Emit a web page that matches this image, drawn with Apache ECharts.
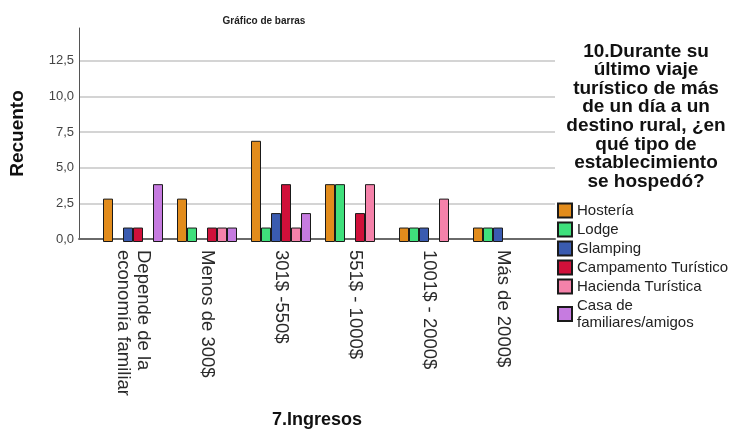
<!DOCTYPE html>
<html>
<head>
<meta charset="utf-8">
<script src="https://cdn.jsdelivr.net/npm/echarts@6/dist/echarts.min.js"></script>
<style>
  html, body { margin: 0; padding: 0; background: #ffffff; }
  #chart { width: 731px; height: 430px; }
</style>
</head>
<body>
<div id="chart"></div>
<script>
// Income brackets (x categories)
const categories = [
  'Depende de la\neconomía familiar',
  'Menos de 300$',
  '301$ -550$',
  '551$ - 1000$',
  '1001$ - 2000$',
  'Más de 2000$'
];

// Accommodation types (series) and their counts per income bracket
const seriesNames = [
  'Hostería',
  'Lodge',
  'Glamping',
  'Campamento Turístico',
  'Hacienda Turística',
  'Casa de\nfamiliares/amigos'
];
const hosteria   = [3, 3, 7, 4, 1, 1];
const lodge      = [0, 1, 1, 4, 1, 1];
const glamping   = [1, 0, 2, 0, 1, 1];
const campamento = [1, 1, 4, 2, 0, 0];
const hacienda   = [0, 1, 1, 4, 3, 0];
const casa       = [4, 1, 2, 0, 0, 0];

// Y axis ticks
const yTicks = [0, 2.5, 5, 7.5, 10, 12.5];
const yMax = 14.8;

const colors = ['#E28C1C', '#3FE07C', '#3A5BB0', '#D0103A', '#F582AA', '#C67BE0'];
const values = [hosteria, lodge, glamping, campamento, hacienda, casa];

const FONT = '"Liberation Sans", Arial, sans-serif';

const chart = echarts.init(document.getElementById('chart'), null, { renderer: 'canvas' });

const series = seriesNames.map((name, i) => ({
  name: name,
  type: 'bar',
  xAxisIndex: 1,
  yAxisIndex: 1,
  barWidth: 10,
  barGap: '0%',
  itemStyle: { color: colors[i], borderColor: '#1a1a1a', borderWidth: 1 },
  emphasis: { disabled: true },
  data: values[i].map(v => (v === 0 ? '-' : v))
}));

chart.setOption({
  animation: false,
  backgroundColor: '#ffffff',
  textStyle: { fontFamily: FONT },
  title: [
    {
      text: 'Gráfico de barras',
      left: 259, top: 11, textAlign: 'center',
      textStyle: { fontFamily: FONT, fontSize: 10, fontWeight: 'bold', color: '#222' }
    },
    {
      text: '10.Durante su\núltimo viaje\nturístico de más\nde un día a un\ndestino rural, ¿en\nqué tipo de\nestablecimiento\nse hospedó?',
      left: 641, top: 37, textAlign: 'center',
      textStyle: { fontFamily: FONT, fontSize: 19, fontWeight: 'bold', color: '#111', lineHeight: 18.6 }
    }
  ],
  legend: {
    orient: 'vertical',
    left: 552, top: 197,
    itemWidth: 14, itemHeight: 14, itemGap: 2,
    icon: 'rect',
    selectedMode: false,
    textStyle: { fontFamily: FONT, fontSize: 15, lineHeight: 17, color: '#222' },
    data: seriesNames
  },
  grid: [
    { left: 78, right: 176, top: 28, bottom: 188 },
    { left: 96, right: 191, top: 28, bottom: 188 }
  ],
  xAxis: [
    {
      gridIndex: 0, type: 'value', min: 0, max: 1,
      name: '7.Ingresos', nameLocation: 'middle', nameGap: 172,
      nameTextStyle: { fontFamily: FONT, fontSize: 18, fontWeight: 'bold', color: '#111' },
      axisLine: { show: true, lineStyle: { color: '#6a6a6a', width: 2 } },
      axisTick: { show: false }, axisLabel: { show: false }, splitLine: { show: false }
    },
    {
      gridIndex: 1, type: 'category', data: categories,
      axisLine: { show: false }, axisTick: { show: false },
      axisLabel: {
        rotate: -90, margin: 8, interval: 0,
        fontFamily: FONT, fontSize: 18.5, lineHeight: 20, color: '#2a2a2a'
      }
    }
  ],
  yAxis: [
    {
      gridIndex: 0, type: 'value', min: yTicks[0], max: yMax, interval: yTicks[1] - yTicks[0],
      name: 'Recuento', nameLocation: 'middle', nameGap: 52, nameRotate: 90,
      nameTextStyle: { fontFamily: FONT, fontSize: 19, fontWeight: 'bold', color: '#111' },
      axisLine: { show: true, lineStyle: { color: '#555', width: 1 } },
      axisTick: { show: false },
      axisLabel: {
        showMaxLabel: false, margin: 5,
        fontFamily: FONT, fontSize: 13, color: '#444',
        formatter: v => (yTicks.includes(v) ? v.toFixed(1).replace('.', ',') : '')
      },
      splitLine: {
        show: true, showMaxLine: false,
        lineStyle: { color: ['#d4d4d4', '#d4d4d4', '#d4d4d4', '#d4d4d4', '#d4d4d4', '#d4d4d4', 'rgba(0,0,0,0)'], width: 2 }
      }
    },
    {
      gridIndex: 1, type: 'value', min: yTicks[0], max: yMax, show: false
    }
  ],
  series: series
});
</script>
</body>
</html>
